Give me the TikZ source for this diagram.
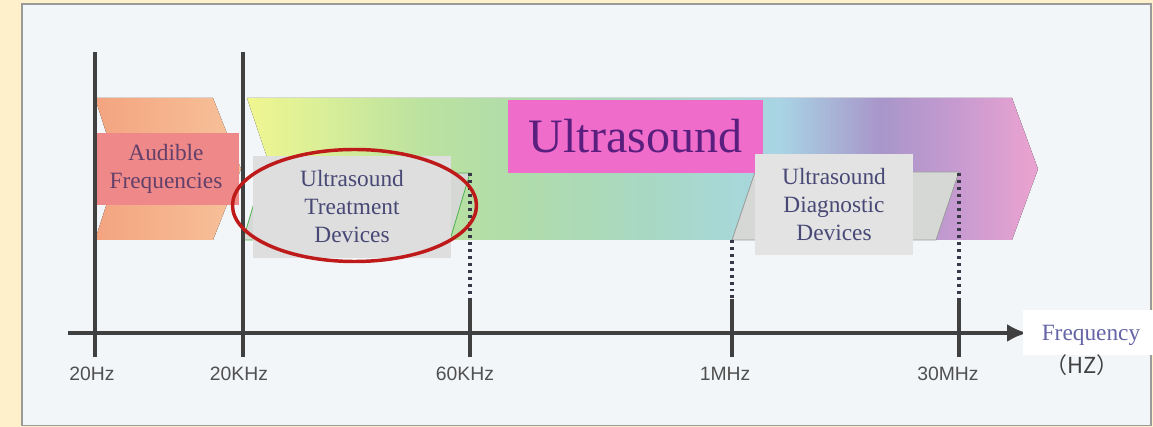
\documentclass[tikz,border=0pt]{standalone}
\usepackage{fontspec}
\setmainfont{Liberation Serif}
\newfontfamily\axfont{Liberation Sans}
\newfontfamily\cjkfont{Noto Sans CJK SC}
\usetikzlibrary{arrows.meta,shapes.geometric}
\definecolor{outerbg}{HTML}{FFF0CC}
\definecolor{panelbg}{HTML}{F3F6F9}
\definecolor{panelline}{HTML}{9A9A9A}
\definecolor{audL}{HTML}{F3A480}
\definecolor{audR}{HTML}{F7C29A}
\definecolor{audbox}{HTML}{EF8888}
\definecolor{audtext}{HTML}{62406A}
\definecolor{pinkbox}{HTML}{F06CCB}
\definecolor{ustext}{HTML}{5A1F7E}
\definecolor{boxgrey}{HTML}{DEDEDE}
\definecolor{paragrey}{HTML}{D6D8D6}
\definecolor{devtext}{HTML}{484876}
\definecolor{ringred}{HTML}{BE1A1A}
\definecolor{axgrey}{HTML}{404040}
\definecolor{dotgrey}{HTML}{383848}
\definecolor{labgrey}{HTML}{505050}
\definecolor{freqtext}{HTML}{6464A6}
\definecolor{g1}{HTML}{F0F690}
\definecolor{g2}{HTML}{D8EE98}
\definecolor{g3}{HTML}{BCE2A0}
\definecolor{g4}{HTML}{B0DCAA}
\definecolor{g5}{HTML}{A8D8C4}
\definecolor{g6}{HTML}{A8D8D8}
\definecolor{g7}{HTML}{A8D4E4}
\definecolor{g8}{HTML}{A896CA}
\definecolor{g9}{HTML}{C49AD0}
\definecolor{g10}{HTML}{E8A2D0}
\pgfdeclarehorizontalshading{usband}{100bp}{color(0bp)=(g1); color(25bp)=(g1); color(30bp)=(g2); color(36bp)=(g3); color(42.3bp)=(g4); color(50.5bp)=(g5); color(56bp)=(g6); color(58.7bp)=(g7); color(65bp)=(g8); color(69.5bp)=(g9); color(74.5bp)=(g10); color(100bp)=(g10)}
\begin{document}
\begin{tikzpicture}[x=0.75pt,y=-0.75pt,
  box/.style={inner sep=0pt, align=center, font=\fontsize{17.5}{21}\selectfont},
  greybox/.style={box, fill=boxgrey, text=devtext},
  vline/.style={draw=axgrey, line width=2.5pt},
  dots/.style={draw=dotgrey, line width=2.3pt, dash pattern=on 2.2pt off 3pt},
  ticklabel/.style={font=\axfont\fontsize{14.5}{17}\selectfont, text=labgrey, inner sep=0pt},
]
\fill[outerbg] (0,0) rectangle (1153,427);
\useasboundingbox (0,0) rectangle (1153,427);
\draw[fill=panelbg, draw=panelline, line width=1.2pt] (22,4) rectangle (1151,425.5);

% chevrons
\fill[left color=audL, right color=audR] (95,98) -- (213,98) -- (241,169) -- (213,240) -- (95,240) -- (118,169) -- cycle;
\fill[shading=usband] (247,98) -- (1012,98) -- (1038,169) -- (1012,240) -- (247,240) -- (271,169) -- cycle;

% parallelograms behind device boxes
\filldraw[fill=paragrey, draw=gray!60!green, line width=0.6pt] (263,173) -- (470,173) -- (450,240) -- (243,240) -- cycle;
\filldraw[fill=paragrey, draw=gray!80, line width=0.6pt] (755,172) -- (959,172) -- (936,240) -- (732,240) -- cycle;

% boxes
\node[box, fill=audbox, text=audtext, minimum width=109.5pt, minimum height=54pt] (aud) at (166,169) {Audible\\Frequencies};
\node[inner sep=0pt, fill=pinkbox, text=ustext, minimum width=191.25pt, minimum height=54.75pt, font=\fontsize{36}{40}\selectfont] (us) at (635.5,136.5) {Ultrasound};
\node[greybox, minimum width=148.5pt, minimum height=76.5pt] (treat) at (352,207) {Ultrasound\\Treatment\\Devices};
\node[greybox, fill=boxgrey!85!white, minimum width=118.5pt, minimum height=75.75pt] (diag) at (834,204.5) {Ultrasound\\Diagnostic\\Devices};

% coordinates
\coordinate (l1t) at (95,52);   \coordinate (l1b) at (95,357);
\coordinate (l2t) at (243,52);  \coordinate (l2b) at (243,357);
\coordinate (t3a) at (470,173); \coordinate (t3m) at (470,299); \coordinate (t3b) at (470,357);
\coordinate (t4a) at (732,240); \coordinate (t4m) at (732,299); \coordinate (t4b) at (732,357);
\coordinate (t5a) at (959,173); \coordinate (t5m) at (959,299); \coordinate (t5b) at (959,357);
\coordinate (axL) at (68,333);  \coordinate (axR) at (1027,333);

% lines
\draw[vline] (l1t) -- (l1b);
\draw[vline] (l2t) -- (l2b);
\draw[dots] (t3a) -- (t3m);
\draw[vline] (t3m) -- (t3b);
\draw[dots] (t4a) -- (t4m);
\draw[vline] (t4m) -- (t4b);
\draw[dots] (t5a) -- (t5m);
\draw[vline] (t5m) -- (t5b);
\draw[vline, -{Latex[length=15pt,width=13.5pt]}] (axL) -- (axR);

% red ring
\node[ellipse, draw=ringred, line width=2.6pt, minimum width=183pt, minimum height=84pt, inner sep=0pt] (ring) at (354.5,205.5) {};

% tick labels
\node[ticklabel] (lab1) at (92,374) {20Hz};
\node[ticklabel] (lab2) at (239,374) {20KHz};
\node[ticklabel] (lab3) at (465,374) {60KHz};
\node[ticklabel] (lab4) at (725,374) {1MHz};
\node[ticklabel] (lab5) at (948,374) {30MHz};

% frequency label
\fill[white] (1023,310) rectangle (1153,355);
\node[inner sep=0pt, text=freqtext, font=\fontsize{17.5}{21}\selectfont] (freq) at (1091,335) {Frequency};
\node[inner sep=0pt, text=axgrey, font=\cjkfont\fontsize{16.5}{18}\selectfont] (hz) at (1082,365) {（HZ）};
\end{tikzpicture}
\end{document}
